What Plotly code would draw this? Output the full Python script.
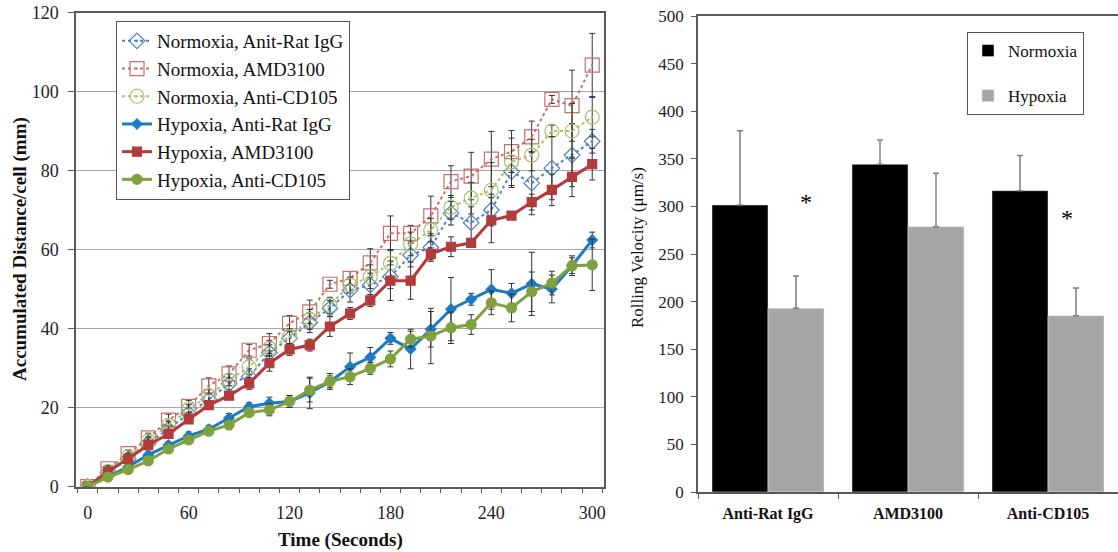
import plotly.graph_objects as go

# ---------------- data: left chart (accumulated distance) ----------------
time_s = [0, 12, 24, 36, 48, 60, 72, 84, 96, 108, 120, 132, 144, 156, 168,
          180, 192, 204, 216, 228, 240, 252, 264, 276, 288, 300]

norm_igg = [0, 3.5, 7.0, 11.0, 14.5, 18.5, 22.0, 26.0, 27.8, 33.9, 37.5, 41.5, 45.1,
            49.7, 51.0, 53.1, 58.6, 60.5, 69.2, 66.8, 70.0, 79.7, 76.8, 80.6, 83.9, 87.4]
norm_amd = [0, 4.5, 8.3, 12.3, 16.8, 20.3, 25.5, 28.5, 34.5, 36.2, 41.3, 44.2, 51.2,
            52.7, 56.6, 64.1, 64.1, 68.5, 77.2, 78.6, 82.9, 84.8, 88.5, 98.0, 96.4, 106.7]
norm_cd105 = [0, 3.8, 7.5, 11.5, 15.5, 19.5, 23.0, 27.0, 30.3, 35.0, 37.9, 42.3, 45.9,
              51.0, 53.1, 56.5, 61.4, 64.9, 70.7, 73.0, 75.0, 82.2, 83.9, 90.0, 90.0, 93.5]
hyp_igg = [0, 2.5, 5.0, 8.0, 10.5, 12.8, 14.5, 17.3, 20.2, 21.1, 21.5, 23.7, 26.5,
           30.3, 32.7, 37.5, 34.8, 39.8, 44.9, 47.4, 49.9, 48.9, 51.3, 50.0, 55.9, 62.4]
hyp_amd = [0, 3.8, 7.0, 10.5, 13.3, 17.0, 20.6, 23.0, 26.1, 31.2, 34.7, 35.8, 40.5,
           43.8, 47.1, 52.1, 52.1, 58.9, 60.7, 61.7, 67.4, 68.6, 72.0, 75.1, 78.4, 81.6]
hyp_cd105 = [0, 2.4, 4.3, 6.5, 9.5, 11.8, 14.0, 15.6, 18.7, 19.4, 21.5, 24.4, 26.6,
             27.8, 29.9, 32.3, 37.3, 38.1, 40.2, 41.0, 46.5, 45.2, 49.3, 51.5, 55.9, 56.1]

err_norm_igg = [0, 0.5, 0.8, 1, 1, 1.2, 1.5, 1.5, 2, 2, 2, 2.5, 2, 3, 3, 3, 3, 3.5,
                3, 4, 4, 4, 8, 8, 8, 3]
err_norm_amd = [0, 0.8, 1, 1.2, 1.5, 1.5, 2, 2, 1.5, 2.5, 2, 3, 1, 1.7, 3.6, 4.4, 2,
                5, 4, 6, 7, 5.3, 4, 1, 9, 8]
err_norm_cd105 = [0, 0.5, 0.8, 1, 1, 1.2, 1.5, 1.5, 2, 2, 2, 2.5, 2, 2, 3, 3.5, 3, 3,
                  3, 4, 7, 6, 4, 1.5, 7, 5]
err_hyp_igg = [0, 0.5, 0.7, 0.8, 0.8, 1, 1, 1.2, 1, 1.5, 1.5, 4, 1.5, 3.5, 2.5, 1.5,
               5, 4.5, 8, 1.5, 5, 2.5, 8, 3.5, 2.5, 2]
err_hyp_amd = [0, 0.5, 0.8, 1, 1, 1, 1, 1, 1.5, 2, 1.5, 1.5, 2.5, 1.5, 1.5, 5, 4.7,
               1.5, 2.5, 1, 5.7, 1, 2, 4, 5, 4]
err_hyp_cd105 = [0, 0.5, 0.7, 0.8, 0.8, 1, 1, 1.2, 1, 1.5, 1.5, 3, 2, 2, 1.5, 2, 2,
                 7, 4, 2.5, 3, 3.5, 5, 3, 2, 6.5]

x_tick_vals = [0, 60, 120, 180, 240, 300]
y_tick_vals = [0, 20, 40, 60, 80, 100, 120]

# ---------------- data: right chart (rolling velocity) ----------------
treatments = ["Anti-Rat IgG", "AMD3100", "Anti-CD105"]
normoxia_vel = [301.5, 344.2, 316.5]
normoxia_err = [78, 25.5, 37]
hypoxia_vel = [193, 278.7, 185.2]
hypoxia_err = [34, 56, 29]

W, H = 1118, 552
SERIF = "Liberation Serif"
AXIS = "#595959"

fig = go.Figure()

line_series = [
    ("Normoxia, Anit-Rat IgG", norm_igg, err_norm_igg, "#4F81BD", "dot", "diamond-open-dot", 12, 2),
    ("Normoxia, AMD3100", norm_amd, err_norm_amd, "#C86E6B", "dot", "square-open-dot", 14, 2),
    ("Normoxia, Anti-CD105", norm_cd105, err_norm_cd105, "#A5C16A", "dot", "circle-open-dot", 14, 2),
    ("Hypoxia, Anti-Rat IgG", hyp_igg, err_hyp_igg, "#1F7BC1", "solid", "diamond", 8, 3),
    ("Hypoxia, AMD3100", hyp_amd, err_hyp_amd, "#B23B3B", "solid", "square", 9, 3),
    ("Hypoxia, Anti-CD105", hyp_cd105, err_hyp_cd105, "#7FA23E", "solid", "circle", 10, 3),
]
for name, ys, errs, color, dash, sym, size, lw in line_series:
    fig.add_trace(go.Scatter(
        x=time_s, y=ys, name=name, mode="lines+markers",
        line=dict(color=color, dash=dash, width=lw),
        marker=dict(symbol=sym, size=size, color=color, line=dict(color=color, width=1.2)),
        error_y=dict(type="data", array=errs, visible=True, color="#333333",
                     thickness=1, width=3),
        xaxis="x", yaxis="y", legend="legend",
    ))

fig.add_trace(go.Bar(
    x=treatments, y=normoxia_vel, name="Normoxia", marker=dict(color="#000000"),
    error_y=dict(type="data", symmetric=False, array=normoxia_err, arrayminus=[0, 0, 0],
                 color="#7F7F7F", thickness=1.5, width=3),
    xaxis="x2", yaxis="y2", legend="legend2", legendgroup="n",
))
fig.add_trace(go.Bar(
    x=treatments, y=hypoxia_vel, name="Hypoxia", marker=dict(color="#A6A6A6"),
    error_y=dict(type="data", symmetric=False, array=hypoxia_err, arrayminus=[0, 0, 0],
                 color="#7F7F7F", thickness=1.5, width=3),
    xaxis="x2", yaxis="y2", legend="legend2", legendgroup="h",
))

fig.update_layout(
    width=W, height=H, margin=dict(l=0, r=0, t=0, b=0, autoexpand=False),
    paper_bgcolor="white", plot_bgcolor="white",
    font=dict(family=SERIF, color="#222222"),
    barmode="group", bargap=0.2, bargroupgap=0,
    xaxis=dict(
        domain=[76 / W, 604 / W], range=[-7, 307], anchor="y", automargin=False,
        tickvals=x_tick_vals, ticks="", showgrid=False, zeroline=False,
        showline=True, linecolor=AXIS, linewidth=1.5, mirror=True,
        minor=dict(ticks="outside", tick0=-6, dtick=12, ticklen=5,
                   tickcolor=AXIS, tickwidth=1),
        tickfont=dict(family=SERIF, size=18, color="#222222"),
        ticklabelstandoff=9,
    ),
    yaxis=dict(
        domain=[1 - 486.5 / H, 1 - 12.5 / H], range=[0, 120], anchor="x", automargin=False,
        tickvals=y_tick_vals, ticks="outside", ticklen=6, tickcolor=AXIS,
        showgrid=True, gridcolor="#A6A6A6", gridwidth=1, zeroline=False,
        showline=True, linecolor=AXIS, linewidth=1.5, mirror=True,
        tickfont=dict(family=SERIF, size=18, color="#222222"),
        ticklabelstandoff=6,
    ),
    xaxis2=dict(
        domain=[698 / W, 1.0], anchor="y2", type="category", automargin=False,
        tickson="boundaries", ticks="outside", ticklen=5, tickcolor=AXIS,
        showline=True, linecolor=AXIS, linewidth=1.5, mirror=True,
        showgrid=False, zeroline=False,
        tickfont=dict(family=SERIF, size=16, color="#111111", weight="bold"),
        ticklabelstandoff=6,
    ),
    yaxis2=dict(
        domain=[1 - 492 / H, 1 - 16 / H], range=[0, 500], dtick=50, anchor="x2",
        automargin=False,
        ticks="outside", ticklen=5, tickcolor=AXIS,
        showline=True, linecolor=AXIS, linewidth=1.5, showgrid=False, zeroline=False,
        tickfont=dict(family=SERIF, size=17, color="#222222"),
        ticklabelstandoff=4,
    ),
    legend=dict(
        x=116 / W, y=1 - 21 / H, xanchor="left", yanchor="top",
        bgcolor="white", bordercolor="#555555", borderwidth=1,
        font=dict(family=SERIF, size=19, color="#111111"),
        tracegroupgap=0,
    ),
    legend2=dict(
        x=967 / W, y=1 - 32 / H, xanchor="left", yanchor="top",
        bgcolor="white", bordercolor="#555555", borderwidth=1,
        font=dict(family=SERIF, size=17, color="#111111"),
        tracegroupgap=20,
    ),
)

annotations = [
    dict(text="<b>Accumulated Distance/cell (mm)</b>", x=20 / W, y=1 - 249 / H,
         xref="paper", yref="paper", textangle=-90, showarrow=False,
         font=dict(family=SERIF, size=19, color="#111111"), xanchor="center", yanchor="middle"),
    dict(text="<b>Time (Seconds)</b>", x=340 / W, y=1 - 540 / H,
         xref="paper", yref="paper", showarrow=False,
         font=dict(family=SERIF, size=19, color="#111111"), xanchor="center", yanchor="middle"),
    dict(text="Rolling Velocity (μm/s)", x=637 / W, y=1 - 248 / H,
         xref="paper", yref="paper", textangle=-90, showarrow=False,
         font=dict(family=SERIF, size=17, color="#111111"), xanchor="center", yanchor="middle"),
    dict(text="*", x=(798 - 698) / 420, y=305, xref="x2 domain", yref="y2",
         showarrow=False, font=dict(family=SERIF, size=24, color="#000000")),
    dict(text="*", x=(1075 - 698) / 420, y=288, xref="x2 domain", yref="y2",
         showarrow=False, font=dict(family=SERIF, size=24, color="#000000")),
]
fig.update_layout(annotations=annotations)

fig.write_html("out.html")
